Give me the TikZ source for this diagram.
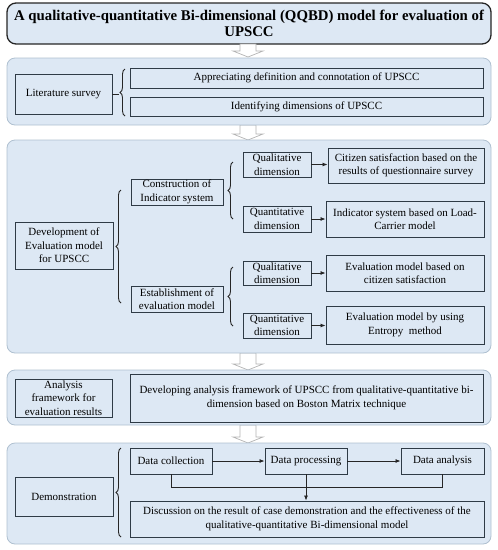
\documentclass[tikz,border=0pt]{standalone}
\usepackage{fontspec}
\setmainfont{Liberation Serif}
\usetikzlibrary{arrows.meta,decorations.pathreplacing}
\definecolor{panelfill}{HTML}{DDE8F4}
\definecolor{panelline}{HTML}{AFC0D0}
\definecolor{boxline}{HTML}{2F3B46}
\definecolor{harrow}{HTML}{B4B4B4}
\tikzset{
  panel/.style={draw=panelline, fill=panelfill, rounded corners=8pt, line width=0.8pt},
  titlebox/.style={draw=black!85, fill=panelfill, rounded corners=9pt, line width=1.3pt},
  box/.style={draw=boxline, fill=panelfill, line width=0.9pt, inner sep=1pt, align=center,
     font=\fontsize{11}{13.5}\selectfont},
  arr/.style={-{Latex[length=5pt,width=4pt]}, line width=0.8pt, draw=black!85},
  conn/.style={line width=0.8pt, draw=black!85},
  bracedeco/.style={decorate, decoration={brace, amplitude=5pt}, line width=0.9pt, draw=black!85},
  hollow/.style={draw=harrow, fill=white, line width=0.7pt}
}
\begin{document}
\begin{tikzpicture}[x=1pt,y=-1pt]
\useasboundingbox (0,0) rectangle (498,550);
% title
\node[titlebox, minimum width=484pt, minimum height=41pt, align=center,
  font=\fontsize{14.8}{16}\selectfont\bfseries] (title) at (249,23.5)
  {A qualitative-quantitative Bi-dimensional (QQBD) model for evaluation of\\UPSCC};
% hollow arrows
\foreach \ya/\yb in {44/57, 125/140, 353/370, 425/443}{
  \draw[hollow] (240,\ya) -- (256,\ya) -- (256,\yb-6) -- (263,\yb-6) -- (248,\yb) -- (233,\yb-6) -- (240,\yb-6) -- cycle;
}
% panels
\node[panel, minimum width=484pt, minimum height=67pt] (p1) at (249,91.5) {};
\node[panel, minimum width=484pt, minimum height=213pt] (p2) at (249,246.5) {};
\node[panel, minimum width=484pt, minimum height=55pt] (p3) at (249,397.5) {};
\node[panel, minimum width=484pt, minimum height=101pt] (p4) at (249,493.5) {};
% section 1
\node[box, minimum width=97pt, minimum height=40pt] (lit) at (63.5,94) {Literature survey};
\node[box, minimum width=353pt, minimum height=20pt] (appr) at (306.5,78) {Appreciating definition and connotation of UPSCC};
\node[box, minimum width=353pt, minimum height=19pt] (ident) at (306.5,106.5) {Identifying dimensions of UPSCC};
\coordinate (b1t) at (125,69);
\coordinate (b1b) at (125,116);
\draw[bracedeco] (b1b) -- (b1t);
\draw[conn] (lit.east) -- (119,94);
% section 2
\node[box, minimum width=98pt, minimum height=47pt] (dev) at (64,245.5) {Development of\\Evaluation model\\for UPSCC};
\coordinate (b2t) at (121,190);
\coordinate (b2b) at (121,303);
\draw[bracedeco] (b2b) -- (b2t);
\node[box, minimum width=92pt, minimum height=26pt] (constr) at (177,192) {Construction of\\Indicator system};
\node[box, minimum width=92pt, minimum height=26pt] (estab) at (177,299) {Establishment of\\evaluation model};
\coordinate (b3t) at (233,162);
\coordinate (b3b) at (233,219);
\draw[bracedeco] (b3b) -- (b3t);
\coordinate (b4t) at (233,267);
\coordinate (b4b) at (233,326);
\draw[bracedeco] (b4b) -- (b4t);
\node[box, minimum width=68pt, minimum height=25pt] (ql1) at (277,164.5) {Qualitative\\dimension};
\node[box, minimum width=68pt, minimum height=26pt] (qn1) at (277,219) {Quantitative\\dimension};
\node[box, minimum width=68pt, minimum height=24pt] (ql2) at (277,273) {Qualitative\\dimension};
\node[box, minimum width=68pt, minimum height=25pt] (qn2) at (277,325.5) {Quantitative\\dimension};
\node[box, minimum width=156pt, minimum height=35pt] (cit) at (406,165.5) {Citizen satisfaction based on the\\results of questionnaire survey};
\node[box, minimum width=158pt, minimum height=36pt] (ind) at (405,219) {Indicator system based on Load-\\Carrier model};
\node[box, minimum width=158pt, minimum height=36pt] (evm) at (405,273) {Evaluation model based on\\citizen satisfaction};
\node[box, minimum width=158pt, minimum height=38pt] (ent) at (405,325) {Evaluation model by using\\Entropy\ \ method};
\draw[arr] (ql1.east) -- (ql1.east -| cit.west);
\draw[arr] (qn1.east) -- (qn1.east -| ind.west);
\draw[arr] (ql2.east) -- (ql2.east -| evm.west);
\draw[arr] (qn2.east) -- (qn2.east -| ent.west);
% section 3
\node[box, minimum width=97pt, minimum height=38pt] (ana) at (63.5,398) {Analysis\\framework for\\evaluation results};
\node[box, minimum width=353pt, minimum height=48pt] (devf) at (306.5,398) {Developing analysis framework of UPSCC from qualitative-quantitative bi-\\dimension based on Boston Matrix technique};
% section 4
\node[box, minimum width=98pt, minimum height=39pt] (demo) at (64,496.5) {Demonstration};
\coordinate (b5t) at (121,448);
\coordinate (b5b) at (121,537);
\draw[bracedeco] (b5b) -- (b5t);
\node[box, minimum width=82pt, minimum height=26pt] (dcol) at (171,461) {Data collection};
\node[box, minimum width=82pt, minimum height=26pt] (dproc) at (306,461) {Data processing};
\node[box, minimum width=83pt, minimum height=26pt] (dana) at (442.5,461) {Data analysis};
\node[box, minimum width=354pt, minimum height=36pt] (disc) at (307,519) {Discussion on the result of case demonstration and the effectiveness of the\\qualitative-quantitative Bi-dimensional model};
\draw[arr] (dcol) -- (dproc);
\draw[arr] (dproc) -- (dana);
\coordinate (jl) at (171,487);
\draw[conn] (dcol.south) -- (jl) -| (dana.south);
\draw[arr] (dproc.south) -- (dproc.south |- disc.north);
\end{tikzpicture}
\end{document}
